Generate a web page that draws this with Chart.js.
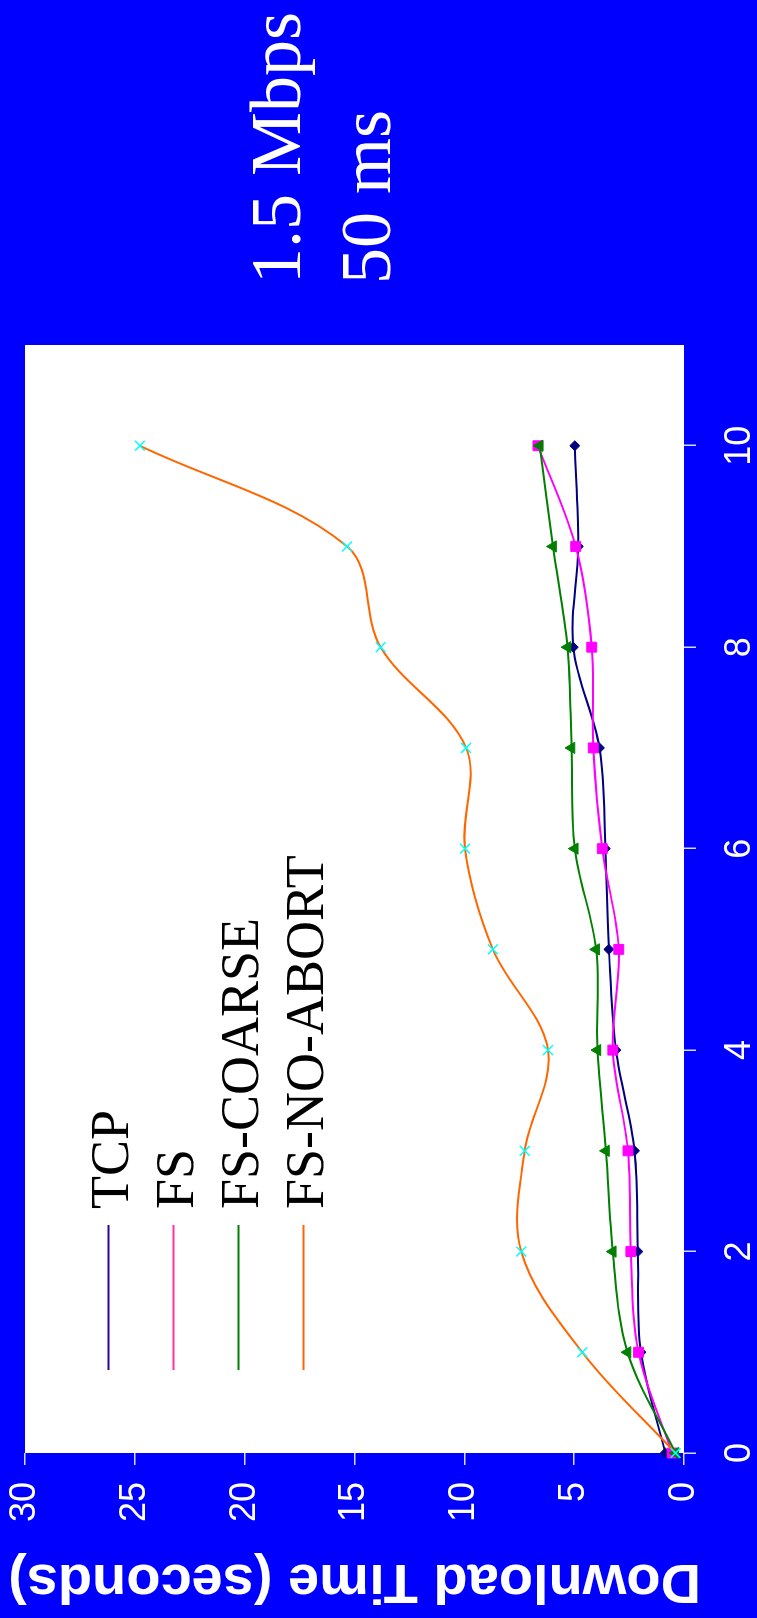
<!DOCTYPE html>
<html>
<head>
<meta charset="utf-8">
<title>Download Time</title>
<script src="https://cdn.jsdelivr.net/npm/chart.js@4.4.1/dist/chart.umd.min.js"></script>
<style>
  html, body { margin: 0; padding: 0; background: #0000ff; }
  body { width: 757px; height: 1618px; overflow: hidden; position: relative; }
  /* o gráfico original está deitado: desenha na horizontal e gira -90 graus */
  #wrap {
    position: absolute; left: 0; top: 0;
    width: 1618px; height: 757px;
    transform-origin: 0 0;
    transform: translate(0, 1618px) rotate(-90deg);
  }
</style>
</head>
<body>
<div id="wrap"><canvas id="grafico" width="1618" height="757"></canvas></div>
<script>
// Valores (tempo de download em segundos)
const xValues = [0, 1, 2, 3, 4, 5, 6, 7, 8, 9, 10];
const tcp       = [0.85, 1.96, 2.10, 2.25, 3.10, 3.42, 3.58, 3.85, 5.04, 4.81, 4.97];
const fs        = [0.54, 2.07, 2.42, 2.55, 3.24, 2.97, 3.72, 4.13, 4.20, 4.93, 6.65];
const fsCoarse  = [0.39, 2.57, 3.24, 3.55, 3.94, 4.00, 4.97, 5.12, 5.30, 5.96, 6.57];
const fsNoAbort = [0.39, 4.63, 7.41, 7.25, 6.19, 8.70, 9.97, 9.92, 13.81, 15.34, 24.77];

const xTicks = [0, 2, 4, 6, 8, 10];
const yTicks = [0, 5, 10, 15, 20, 25, 30];

const seriesLabels = ['TCP', 'FS', 'FS-COARSE', 'FS-NO-ABORT'];
const subtitleLines = ['1.5 Mbps', '50 ms'];

// cores e marcadores
const lineColors   = ['#000080', '#ff00ff', '#008000', '#ff6600'];
const markerColors = ['#000080', '#ff00ff', '#008000', '#00ffff'];
const legendColors = ['#330099', '#ff3399', '#008000', '#ff6600'];
const markerStyles = ['rectRot', 'rect', 'triangle', 'crossRot'];
const markerSizes  = [5, 7, 6.5, 7];

const seriesData = [tcp, fs, fsCoarse, fsNoAbort];

Chart.defaults.font.family = '"Liberation Sans", Arial, sans-serif';

// fundo branco só na área do gráfico
const fundoBranco = {
  id: 'fundoBranco',
  beforeDraw(chart) {
    const { ctx, chartArea: a } = chart;
    ctx.save();
    ctx.fillStyle = '#ffffff';
    ctx.fillRect(a.left, a.top, a.right - a.left, a.bottom - a.top);
    ctx.restore();
  }
};

// legenda dentro do gráfico e o texto "1.5 Mbps / 50 ms"
const legendaETexto = {
  id: 'legendaETexto',
  afterDraw(chart) {
    const ctx = chart.ctx;
    ctx.save();
    ctx.textBaseline = 'alphabetic';
    ctx.textAlign = 'left';
    ctx.font = '54px "Liberation Serif", "Times New Roman", serif';
    seriesLabels.forEach((nome, i) => {
      const base = 127.5 + i * 65;
      ctx.strokeStyle = legendColors[i];
      ctx.lineWidth = 2;
      ctx.beginPath();
      ctx.moveTo(248, base - 19);
      ctx.lineTo(393, base - 19);
      ctx.stroke();
      ctx.fillStyle = '#000000';
      ctx.fillText(nome, 409, base);
    });
    ctx.fillStyle = '#ffffff';
    ctx.font = '72px "Liberation Serif", "Times New Roman", serif';
    subtitleLines.forEach((t, i) => ctx.fillText(t, 1334, 300 + i * 90));
    ctx.restore();
  }
};

const gridOpts = {
  drawOnChartArea: false,
  drawTicks: true,
  tickLength: 12,
  color: 'rgba(255,255,255,0.85)',
  tickColor: 'rgba(255,255,255,0.85)',
  lineWidth: 1.5
};

const ctx = document.getElementById('grafico').getContext('2d');

const meuGrafico = new Chart(ctx, {
  type: 'line',
  data: {
    datasets: seriesData.map((serie, i) => ({
      label: seriesLabels[i],
      data: xValues.map((x, k) => ({ x: x, y: serie[k] })),
      borderColor: lineColors[i],
      backgroundColor: markerColors[i],
      borderWidth: 2,
      pointStyle: markerStyles[i],
      pointRadius: markerSizes[i],
      pointBackgroundColor: markerColors[i],
      pointBorderColor: markerColors[i],
      pointBorderWidth: i === 3 ? 1.5 : 1,
      tension: 0.35,
      fill: false,
      clip: false,
      order: 4 - i
    }))
  },
  options: {
    responsive: false,
    animation: false,
    layout: { padding: { top: 25, right: 345, bottom: 0, left: 0 } },
    plugins: {
      legend: { display: false },
      tooltip: { enabled: false }
    },
    scales: {
      x: {
        type: 'linear',
        min: 0,
        max: 11,
        afterBuildTicks: (s) => { s.ticks = xTicks.map(v => ({ value: v })); },
        afterFit: (s) => { s.height = 73; },
        grid: gridOpts,
        border: { display: false },
        ticks: { color: '#ffffff', font: { size: 36 }, padding: 22, maxRotation: 0, autoSkip: false }
      },
      y: {
        min: 0,
        max: 30,
        afterBuildTicks: (s) => { s.ticks = yTicks.map(v => ({ value: v })); },
        afterFit: (s) => { s.width = 165; s.paddingTop = 0; s.paddingBottom = 0; },
        grid: gridOpts,
        border: { display: false },
        ticks: { color: '#ffffff', font: { size: 36 }, padding: 17 },
        title: {
          display: true,
          text: 'Download Time (seconds)',
          color: '#ffffff',
          font: { size: 56, weight: 'bold' },
          padding: { top: 4, bottom: 0 }
        }
      }
    }
  },
  plugins: [fundoBranco, legendaETexto]
});
</script>
</body>
</html>
